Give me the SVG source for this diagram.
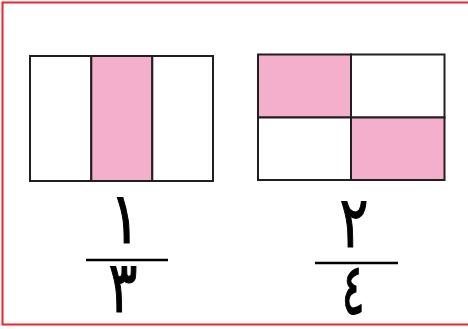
<svg xmlns="http://www.w3.org/2000/svg" width="468" height="329" viewBox="0 0 468 329">
<style>
.cell{stroke:#231f20;stroke-width:2}
.pink{fill:#f4afcc}
.white{fill:#ffffff}
.bar{stroke:#000;stroke-width:2.5}
.num{font-family:"DejaVu Sans",sans-serif;font-size:72px;fill:#000;stroke:#000;stroke-width:1.2;text-anchor:middle}
</style>
<rect x="0" y="0" width="468" height="329" fill="#fff"/>
<rect x="2.5" y="2.5" width="480" height="322" fill="none" stroke="#e8262e" stroke-width="2"/>
<g id="shape-thirds">
<rect class="cell white" x="30" y="56" width="61.3" height="125"/>
<rect class="cell pink" x="91.3" y="56" width="61" height="125"/>
<rect class="cell white" x="152.3" y="56" width="60.7" height="125"/>
</g>
<g id="shape-quarters">
<rect class="cell pink" x="258" y="54.5" width="93" height="63"/>
<rect class="cell white" x="351" y="54.5" width="93.5" height="63"/>
<rect class="cell white" x="258" y="117.5" width="93" height="62.5"/>
<rect class="cell pink" x="351" y="117.5" width="93.5" height="62.5"/>
</g>
<g id="fraction-1-3">
<text class="num" transform="translate(125 243) scale(0.8 1)">١</text>
<line class="bar" x1="86" y1="260" x2="168" y2="260"/>
<text class="num" transform="translate(123 312) scale(0.75 1)">٣</text>
</g>
<g id="fraction-2-4">
<text class="num" transform="translate(354 247) scale(0.75 1)">٢</text>
<line class="bar" x1="315" y1="263" x2="398" y2="263"/>
<text class="num" transform="translate(353 314) scale(0.6 1)">٤</text>
</g>
</svg>
